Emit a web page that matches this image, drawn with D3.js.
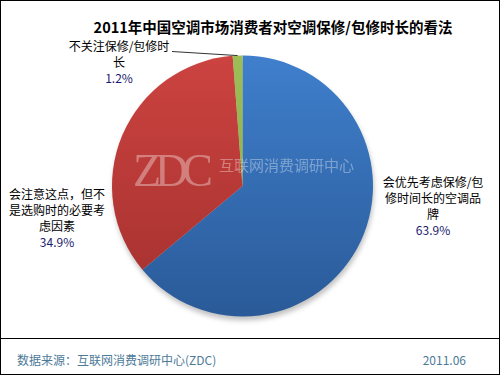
<!DOCTYPE html>
<html lang="zh">
<head>
<meta charset="utf-8">
<title>2011年中国空调市场消费者对空调保修/包修时长的看法</title>
<script src="https://cdn.jsdelivr.net/npm/d3@7"></script>
<style>
  body { margin: 0; background: #fff; }
  svg { display: block; font-family: "Noto Sans CJK SC", "Noto Sans", sans-serif; }
</style>
</head>
<body>
<svg id="chart" width="500" height="375"></svg>
<script>
// -- data (clockwise from 12 o'clock)
var categories = ["会优先考虑保修/包修时间长的空调品牌", "会注意这点，但不是选购时的必要考虑因素", "不关注保修/包修时长"];
var values = [63.9, 34.9, 1.2];
var labelLines = [
    ["会优先考虑保修/包", "修时间长的空调品", "牌"],
    ["会注意这点，但不", "是选购时的必要考", "虑因素"],
    ["不关注保修/包修时", "长"]
];
var topColors = ["#3f7fcc", "#cc4340", "#9dbd57"];
var bottomColors = ["#2a5a98", "#a3302e", "#86a646"];

var svg = d3.select("#chart");
var W = 500, H = 375;
var cx = 242.5, cy = 186, R = 130.5;

// frame
svg.append("rect").attr("x", 0.5).attr("y", 0.5).attr("width", W - 1).attr("height", H - 1)
    .attr("fill", "#fff").attr("stroke", "#000");
svg.append("line").attr("x1", 1).attr("x2", W - 1).attr("y1", 338.5).attr("y2", 338.5)
    .attr("stroke", "#000");

// title
svg.append("text").attr("x", 273).attr("y", 33).attr("text-anchor", "middle")
    .attr("font-size", 14.5).attr("font-weight", "bold").attr("fill", "#000")
    .text("2011年中国空调市场消费者对空调保修/包修时长的看法");

var defs = svg.append("defs");
topColors.forEach(function(c, i) {
    var g = defs.append("linearGradient").attr("id", "g" + i)
        .attr("gradientUnits", "userSpaceOnUse")
        .attr("x1", 0).attr("y1", -R).attr("x2", 0).attr("y2", R);
    g.append("stop").attr("offset", "0%").attr("stop-color", c);
    g.append("stop").attr("offset", "100%").attr("stop-color", bottomColors[i]);
});
var blur = defs.append("filter").attr("id", "shadow").attr("x", "-20%").attr("y", "-20%")
    .attr("width", "140%").attr("height", "140%");
blur.append("feGaussianBlur").attr("stdDeviation", 2.5);

var pie = d3.pie().sort(null).value(function(d) { return d; });
var arc = d3.arc().innerRadius(0).outerRadius(R);
var arcs = pie(values);

var g = svg.append("g").attr("transform", "translate(" + cx + "," + cy + ")");

// soft shadow under the pie
g.append("circle").attr("cx", 1).attr("cy", 4).attr("r", R)
    .attr("fill", "#999").attr("opacity", 0.6).attr("filter", "url(#shadow)");

g.selectAll("path.slice").data(arcs).enter().append("path")
    .attr("class", "slice")
    .attr("d", arc)
    .attr("fill", function(d, i) { return "url(#g" + i + ")"; });

// watermark
svg.append("text").attr("x", 133).attr("y", 186)
    .attr("font-family", "'Liberation Serif', 'DejaVu Serif', serif")
    .attr("font-size", 46).attr("fill", "#fff").attr("opacity", 0.35)
    .attr("textLength", 80).text("ZDC");
svg.append("text").attr("x", 219).attr("y", 171)
    .attr("font-size", 15).attr("fill", "#fff").attr("opacity", 0.35)
    .text("互联网消费调研中心");

// labels
var labelPos = [
    { x: 433, y: 187 },
    { x: 57, y: 199 },
    { x: 119, y: 51 }
];
var lh = 16;
arcs.forEach(function(a, i) {
    var t = svg.append("text").attr("text-anchor", "middle").attr("font-size", 12).attr("fill", "#000");
    labelLines[i].forEach(function(s, j) {
        t.append("tspan").attr("x", labelPos[i].x).attr("y", labelPos[i].y + j * lh).text(s);
    });
    t.append("tspan").attr("x", labelPos[i].x).attr("y", labelPos[i].y + labelLines[i].length * lh)
        .attr("fill", "#1b1b6e").text(d3.format(".1f")(values[i]) + "%");
});

// leader line for the small slice
var small = arcs[2];
var mid = (small.startAngle + small.endAngle) / 2;
svg.append("line")
    .attr("x1", 172).attr("y1", 51.5)
    .attr("x2", cx + Math.sin(mid) * R).attr("y2", cy - Math.cos(mid) * R)
    .attr("stroke", "#333").attr("stroke-width", 1);

// footer
svg.append("text").attr("x", 17).attr("y", 365).attr("font-size", 12).attr("fill", "#4d7a99")
    .text("数据来源：互联网消费调研中心(ZDC)");
svg.append("text").attr("x", 466).attr("y", 365).attr("text-anchor", "end")
    .attr("font-size", 12).attr("fill", "#4d7a99").text("2011.06");
</script>
</body>
</html>
